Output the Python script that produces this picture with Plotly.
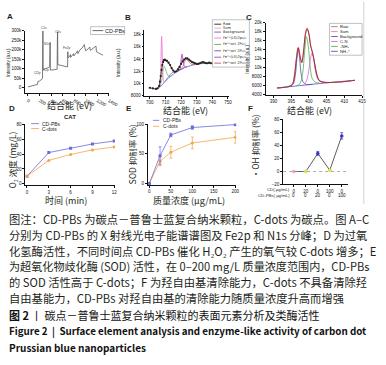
import plotly.graph_objects as go

W, H = 386, 365
def X(p): return p / W
def Y(p): return 1 - p / H

# ---------------- DATA ----------------
# A: XPS survey
survey_ev = [0, 60, 120, 165, 172, 200, 240, 252, 256, 259, 263, 300, 360, 376, 380, 384, 388, 392, 450, 505, 509, 513, 518, 560, 640, 686, 690, 694, 700,
             720, 735, 738, 760, 790, 795, 830, 860, 865, 900, 940, 975, 985, 1000, 1040, 1070, 1080, 1120, 1160, 1178, 1186, 1220, 1260, 1300]
survey_counts = [5000, 9000, 13000, 18000, 33000, 36000, 45000, 52000, 230000, 300000, 97000, 100000, 105000, 110000, 200000, 240000, 93000, 94000, 95000, 98000, 250000, 295000, 122000, 118000, 112000, 110000, 190000, 157000, 160000,
                 165000, 175000, 160000, 170000, 180000, 168000, 185000, 195000, 180000, 200000, 210000, 228000, 212000, 195000, 205000, 215000, 197000, 205000, 215000, 220000, 190000, 183000, 178000, 172000]
survey_peaks = ["C1s", "N1s", "O1s", "Fe2p", "Cl2p", "K2p"]

# B: Fe2p
b_ev = [700, 702, 704, 705, 706, 706.5, 707, 707.5, 708, 708.5, 709, 709.5, 710, 711, 712, 713, 714, 715, 716, 717, 718, 719, 720, 721, 722,
        723, 724, 725, 726, 727, 728, 729, 730, 731, 732, 733, 734, 735, 736, 737, 738, 739, 740]
b_raw = [9300, 9200, 9100, 9200, 9600, 10300, 11200, 12200, 13000, 13500, 13800, 13900, 13800, 13700, 13400, 13000, 12500, 12100, 11900, 12000, 12300, 12700, 13200, 13600, 13900,
         14100, 14100, 13900, 13700, 13500, 13400, 13300, 13200, 13200, 13300, 13400, 13500, 13400, 13300, 13300, 13400, 13300, 13300]
b_sum = [9250, 9200, 9150, 9200, 9500, 10200, 11300, 12400, 13100, 13500, 13750, 13850, 13800, 13650, 13350, 12950, 12500, 12150, 11950, 12050, 12350, 12750, 13250, 13600, 13850,
         14000, 14000, 13850, 13650, 13500, 13400, 13300, 13250, 13250, 13300, 13350, 13400, 13350, 13300, 13300, 13350, 13300, 13300]
b_bg_ev = [700, 704, 706, 708, 710, 712, 714, 716, 718, 720, 722, 724, 726, 728, 730, 733, 736, 740]
b_bg = [9200, 9150, 9300, 9800, 10400, 10900, 11300, 11700, 12000, 12300, 12550, 12750, 12900, 13050, 13150, 13250, 13300, 13300]
b_c1_ev = [705, 706, 706.8, 707.3, 707.6, 707.9, 708.4, 709, 710]
b_c1 = [9200, 9350, 11000, 15500, 17700, 15500, 11500, 10200, 10400]
b_c2_ev = [705, 706.5, 707.5, 708.5, 709.3, 710, 711, 712, 713, 714]
b_c2 = [9200, 9500, 10500, 12200, 12800, 12400, 11600, 11200, 11200, 11300]
b_c3_ev = [710, 712, 714, 716, 718, 720, 722]
b_c3 = [10400, 11100, 11700, 11900, 12100, 12300, 12550]
b_c4_ev = [718, 719, 719.8, 720.3, 720.6, 721, 721.6, 722.5, 724]
b_c4 = [12000, 12200, 13300, 14500, 14800, 14300, 13200, 12700, 12750]
b_c5_ev = [719, 721, 722.5, 723.5, 725, 727, 729]
b_c5 = [12200, 12700, 13600, 13900, 13500, 13100, 13100]
b_names = ["Raw", "Sum", "Background", "Fe²⁺(LS)2p₃/₂", "Fe³⁺oct 2P₃/₂",
           "Fe³⁺oct 2P₁/₂", "Fe²⁺(LS)2p₁/₂", "Fe³⁺oct 2P₁/₂"]

# C: N1s
c_ev = [391, 392, 393, 394, 395, 395.5, 396, 396.5, 397, 397.5, 398, 398.5, 399, 399.5, 400, 400.5, 401, 401.5, 402, 402.5, 403,
        404, 405, 406, 407, 408, 409, 410, 411, 412, 413]
c_raw = [5500, 5550, 5650, 5750, 6000, 6500, 8500, 12000, 14400, 12500, 11100, 13500, 17200, 18600, 17500, 14800, 13400, 11500, 9300, 7800, 7100,
         6800, 6700, 6700, 6750, 6800, 6850, 6900, 7000, 7100, 7200]
c_sum = [5480, 5540, 5640, 5760, 6050, 6600, 8700, 12300, 14600, 12700, 11300, 13700, 17500, 18800, 17700, 15000, 13500, 11600, 9400, 7900, 7150,
         6850, 6750, 6720, 6760, 6800, 6850, 6920, 7000, 7100, 7200]
c_bg_ev = [391, 402, 413]
c_bg = [5480, 6400, 7220]
c_nh4_ev = [394, 395.5, 396.2, 396.6, 397, 397.4, 397.9, 398.5, 399.5, 401]
c_nh4 = [5800, 6300, 8500, 11800, 14200, 12000, 8200, 6700, 6250, 6330]
c_nh2_ev = [396.5, 397.5, 398.2, 398.8, 399.3, 399.8, 400.4, 401, 402, 403]
c_nh2 = [6000, 6500, 8500, 13500, 16900, 15000, 10000, 7500, 6700, 6600]
c_cn_ev = [398.5, 399.3, 400, 400.5, 400.9, 401.3, 401.8, 402.5, 403.5, 405]
c_cn = [6300, 7000, 9500, 12300, 13300, 12200, 9500, 7500, 6800, 6700]
c_names = ["Raw", "Sum", "Background", "C-N", "-NH₂", "NH₄⁺"]

# D: CAT
d_time = [0, 3, 6, 9, 12]
d_cdpbs = [10.2, 42.2, 48.0, 53.8, 57.8]
d_cdots = [10.2, 31.6, 39.6, 45.8, 49.8]

# E: SOD
e_conc = [0, 25, 50, 100, 200]
e_cdpbs = [0, 47, 82, 94.5, 99.5]
e_cdpbs_err = [0, 15, 3, 3, 2]
e_cdots = [0, 37.6, 52.8, 68.5, 78]
e_cdots_err = [0, 8, 10, 10, 10]

# F: OH scavenging
f_cat = [0, 1, 2, 3, 4]
f_val = [0, 0, 28, 2, 55]
f_err = [0, 0, 3, 0, 5]
f_cd = ["0", "20", "0", "100", "0"]
f_cdpbs = ["0", "0", "20", "0", "100"]
f_colors = ["#f4a3a3", "#e6e040", "#3434c8", "#e6e040", "#3434c8"]

BLUE = "#6b6bd9"
ORANGE = "#f5a447"

# ---------------- FIGURE ----------------
fig = go.Figure()

def line(xs, ys, color, width=0.8, xa="x", ya="y", shape="linear", mode="lines", msize=2):
    fig.add_trace(go.Scatter(x=xs, y=ys, mode=mode, xaxis=xa, yaxis=ya, line=dict(color=color, width=width, shape=shape),
                             marker=dict(size=msize, color=color), showlegend=False, hoverinfo="skip"))

# A
line(survey_ev, survey_counts, "#5a5a5a", 0.8, "x", "y")
# B
b_cols = ["#222222", "#f4a0a0", "#6060d0", "#ee7ad2", "#55b055", "#7050c0", "#b040c0", "#d84870"]
line(b_bg_ev, b_bg, b_cols[2], 0.8, "x2", "y2", "spline")
line(b_c2_ev, b_c2, b_cols[4], 0.7, "x2", "y2", "spline")
line(b_c3_ev, b_c3, b_cols[5], 0.7, "x2", "y2", "spline")
line(b_c5_ev, b_c5, b_cols[7], 0.7, "x2", "y2", "spline")
line(b_c1_ev, b_c1, b_cols[3], 0.9, "x2", "y2", "spline")
line(b_c4_ev, b_c4, b_cols[6], 0.9, "x2", "y2", "spline")
line(b_ev, b_sum, b_cols[1], 1.2, "x2", "y2", "spline")
line(b_ev, b_raw, b_cols[0], 0.7, "x2", "y2", "spline", "lines+markers", 2.2)
# C
c_cols = ["#888888", "#f08080", "#5050c8", "#e060e0", "#50b050", "#5050b8"]
line(c_bg_ev, c_bg, c_cols[2], 0.8, "x3", "y3", "spline")
line(c_nh4_ev, c_nh4, c_cols[5], 0.8, "x3", "y3", "spline")
line(c_nh2_ev, c_nh2, c_cols[4], 0.8, "x3", "y3", "spline")
line(c_cn_ev, c_cn, c_cols[3], 0.8, "x3", "y3", "spline")
line(c_ev, c_sum, c_cols[1], 1.1, "x3", "y3", "spline")
line(c_ev, c_raw, "#7a2030", 0.8, "x3", "y3", "spline")

# D
fig.add_trace(go.Scatter(x=d_time, y=d_cdpbs, xaxis="x4", yaxis="y4", mode="lines+markers", line=dict(color=BLUE, width=0.8),
                         marker=dict(size=3, color=BLUE, symbol="square"), showlegend=False))
fig.add_trace(go.Scatter(x=d_time, y=d_cdots, xaxis="x4", yaxis="y4", mode="lines+markers", line=dict(color=ORANGE, width=0.8),
                         marker=dict(size=3, color=ORANGE), showlegend=False))
# E
fig.add_trace(go.Scatter(x=e_conc, y=e_cdots, xaxis="x5", yaxis="y5", mode="lines+markers", line=dict(color=ORANGE, width=0.8),
                         marker=dict(size=3, color=ORANGE),
                         error_y=dict(type="data", array=e_cdots_err, color=ORANGE, thickness=0.7, width=1.5), showlegend=False))
fig.add_trace(go.Scatter(x=e_conc, y=e_cdpbs, xaxis="x5", yaxis="y5", mode="lines+markers", line=dict(color=BLUE, width=0.8),
                         marker=dict(size=3, color=BLUE, symbol="square"),
                         error_y=dict(type="data", array=e_cdpbs_err, color=BLUE, thickness=0.7, width=1.5), showlegend=False))
# F
fig.add_trace(go.Scatter(x=f_cat, y=f_val, xaxis="x6", yaxis="y6", mode="lines+markers", line=dict(color="#333333", width=0.8),
                         marker=dict(size=3.5, color=f_colors),
                         error_y=dict(type="data", array=f_err, color="#3434c8", thickness=0.7, width=1.5), showlegend=False))

# ---------------- AXES ----------------
TF = "Liberation Sans, Arial, sans-serif"
def ax(domain_px, rng, tickvals, ticktext=None, horizontal=True, fs=4.5, anchor=None):
    if horizontal:
        dom = [X(domain_px[0]), X(domain_px[1])]
    else:
        dom = [Y(domain_px[1]), Y(domain_px[0])]
    d = dict(domain=dom, range=rng, showline=True, linecolor="#111", linewidth=0.8, ticks="outside", ticklen=2,
             tickwidth=0.6, tickcolor="#111", showgrid=False, zeroline=False, tickvals=tickvals,
             tickfont=dict(size=fs, family=TF, color="#111"), anchor=anchor, fixedrange=True, ticklabelstandoff=0)
    if ticktext is not None:
        d["ticktext"] = ticktext
    return d

lay = {}
lay["xaxis"] = ax([25.7, 112], [-51, 1405], list(range(0, 1401, 200)), anchor="y")
lay["yaxis"] = ax([29.3, 92.7], [-29500, 300000], list(range(0, 300001, 50000)), horizontal=False, anchor="x")
lay["xaxis2"] = ax([148.3, 235], [696.6, 750.6], list(range(700, 751, 10)), anchor="y2")
lay["yaxis2"] = ax([28, 95], [8000, 18800], list(range(8000, 18001, 2000)), horizontal=False, anchor="x2")
lay["xaxis3"] = ax([272.7, 372], [387.8, 415.1], list(range(390, 416, 5)), anchor="y3")
lay["yaxis3"] = ax([21, 94], [4000, 20000], list(range(4000, 20001, 2000)), horizontal=False, anchor="x3")
lay["xaxis4"] = ax([26, 118], [-0.23, 12.1], d_time, anchor="y4")
lay["yaxis4"] = ax([124, 186], [-2.3, 80.4], [0, 20, 40, 60, 80], horizontal=False, anchor="x4")
lay["xaxis5"] = ax([151.7, 242.5], [-3.6, 202], [0, 50, 100, 150, 200], anchor="y5")
lay["yaxis5"] = ax([123.5, 185.7], [-2.8, 100.8], [0, 50, 100], horizontal=False, anchor="x5")
lay["xaxis6"] = ax([290.7, 357], [-0.89, 4.5], f_cat, f_cd, anchor="y6")
lay["yaxis6"] = ax([119, 185], [-20, 80.5], [-20, 0, 20, 40, 60, 80], horizontal=False, anchor="x6")

shapes = []
anns = []

def txt(x, y, s, size, xa="center", ya="middle", color="#231f20", angle=0, family="Noto Sans CJK SC", weight="normal"):
    anns.append(dict(x=X(x), y=Y(y), xref="paper", yref="paper", text=s, showarrow=False, xanchor=xa, yanchor=ya,
                     font=dict(size=size, color=color, family=family, weight=weight), textangle=angle, borderpad=0))

def seg(x0, y0, x1, y1, color, width=0.8, dash="solid"):
    shapes.append(dict(type="line", xref="paper", yref="paper", x0=X(x0), y0=Y(y0), x1=X(x1), y1=Y(y1),
                       line=dict(color=color, width=width, dash=dash)))

def box(x0, y0, x1, y1):
    shapes.append(dict(type="rect", xref="paper", yref="paper", x0=X(x0), y0=Y(y0), x1=X(x1), y1=Y(y1),
                       line=dict(color="#999", width=0.6), fillcolor="white"))

# zero dotted line for F
shapes.append(dict(type="line", xref="x6", yref="y6", x0=-0.89, x1=4.5, y0=0, y1=0, line=dict(color="#888", width=0.7, dash="dot")))
# right border
seg(373.5, 0, 373.5, 205, "#c8c8c8", 0.8)

# panel letters
for lab, (x, y) in zip("ABCDEF", [(10, 15), (131, 16), (256, 16), (12, 108), (132, 108), (257, 108)]):
    txt(x, y, lab, 8, family="Liberation Sans, Arial", weight="bold")

# A extras
txt(8, 61, "Intensity (a.u.)", 4.5, angle=-90, family=TF)
txt(71, 105, "结合能 (eV)", 9)
box(93, 25, 128, 33)
seg(95, 29, 106, 29, "#5a5a5a", 0.9)
txt(107, 29, "CD-PBs", 5.5, xa="left", family=TF)
for s, (x, y) in zip(survey_peaks, [(45, 26), (48.5, 42.5), (59.5, 30.5), (68.5, 47), (38.5, 71.5), (47, 68.5)]):
    txt(x, y, s, 3.2, family=TF, color="#444")

# B extras
txt(121, 61, "Intensity (a.u.)", 4.5, angle=-90, family=TF)
txt(190, 109.5, "结合能 (eV)", 9)
box(218, 18, 256, 66)
b_leg_y = [22.5, 26.5, 30.5, 36.5, 43, 49.5, 56, 62]
for name, col, yy in zip(b_names, b_cols, b_leg_y):
    seg(220, yy, 227, yy, col, 0.9)
    txt(228, yy, name, 3.6, xa="left", family="DejaVu Sans, Liberation Sans")

# C extras
txt(254, 58, "Intensity (a.u.)", 4.5, angle=-90, family=TF)
txt(318, 109.5, "结合能 (eV)", 9)
box(338.3, 21.7, 371.7, 54)
c_leg_y = [25, 30, 35, 40, 45, 50]
for name, col, yy in zip(c_names, c_cols, c_leg_y):
    seg(340, yy, 346.7, yy, col, 0.9)
    txt(348, yy, name, 4.2, xa="left", family="Liberation Sans, DejaVu Sans")

# D extras
txt(71.5, 116.5, "CAT", 6, family=TF, weight="bold")
txt(12, 160, "O₂ 浓度 (mg/L)", 8.5, angle=-90)
txt(68, 201.5, "时间 (min)", 9)
seg(32, 123.3, 40, 123.3, BLUE, 0.8)
seg(32, 128.3, 40, 128.3, ORANGE, 0.8)
txt(42.5, 123.3, "CD-PBs", 5, xa="left", family=TF)
txt(42.5, 128.3, "C-dots", 5, xa="left", family=TF)

# E extras
txt(135, 155, "SOD 抑制率 (%)", 8.5, angle=-90)
txt(194, 201.5, "质量浓度 (μg/mL)", 9)
seg(157, 120, 163.5, 120, BLUE, 0.8)
seg(157, 126, 163.5, 126, ORANGE, 0.8)
txt(166.5, 120, "CD-PBs", 5, xa="left", family=TF)
txt(166.5, 126, "C-dots", 5, xa="left", family=TF)

# F extras
txt(262, 146, "•OH 抑制率 (%)", 8.5, angle=-90)
txt(299, 190, "CD( μg/mL)", 4.3, xa="right", family=TF)
txt(299, 195.7, "CD-PBs( μg/mL)", 4.3, xa="right", family=TF)
for c, s in zip(f_cat, f_cdpbs):
    anns.append(dict(x=c, xref="x6", y=Y(195.7), yref="paper", text=s, showarrow=False, xanchor="center", yanchor="middle",
                     font=dict(size=4.5, family=TF, color="#111"), borderpad=0))

# caption
CF = "Noto Sans CJK SC"
cap = [
    "图注：CD-PBs 为碳点－普鲁士蓝复合纳米颗粒，C-dots 为碳点。图 A–C",
    "分别为 CD-PBs 的 X 射线光电子能谱谱图及 Fe2p 和 N1s 分峰；D 为过氧",
    "化氢酶活性，不同时间点 CD-PBs 催化 H₂O₂ 产生的氧气较 C-dots 增多；E",
    "为超氧化物歧化酶 (SOD) 活性，在 0–200 mg/L 质量浓度范围内，CD-PBs",
    "的 SOD 活性高于 C-dots；F 为羟自由基清除能力，C-dots 不具备清除羟",
    "自由基能力，CD-PBs 对羟自由基的清除能力随质量浓度升高而增强",
]
cap_size = [11.3, 11.3, 11.3, 11.1, 11.3, 11.3]
cap_y = [220, 236, 252, 268, 284, 300.5]
for s, yy, fs in zip(cap, cap_y, cap_size):
    txt(8, yy, s, fs, xa="left", color="#231f20", family=CF)
txt(8, 317, "图 2", 11.0, xa="left", color="#111", family=CF, weight="bold")
txt(31, 317, "丨 碳点－普鲁士蓝复合纳米颗粒的表面元素分析及类酶活性", 11.0, xa="left", color="#111", family=CF)
txt(8, 334, "Figure 2  |  Surface element analysis and enzyme-like activity of carbon dot", 9.8, xa="left", color="#111", family=CF, weight="bold")
txt(8, 350.5, "Prussian blue nanoparticles", 10.0, xa="left", color="#111", family=CF, weight="bold")

fig.update_layout(width=W, height=H, margin=dict(l=0, r=0, t=0, b=0), autosize=False,
                  paper_bgcolor="white", plot_bgcolor="white", showlegend=False,
                  shapes=shapes, annotations=anns, **lay)
fig.write_html("out.html", config={"displayModeBar": False},
               post_script="document.body.style.margin='0px';document.body.style.overflow='hidden';")
